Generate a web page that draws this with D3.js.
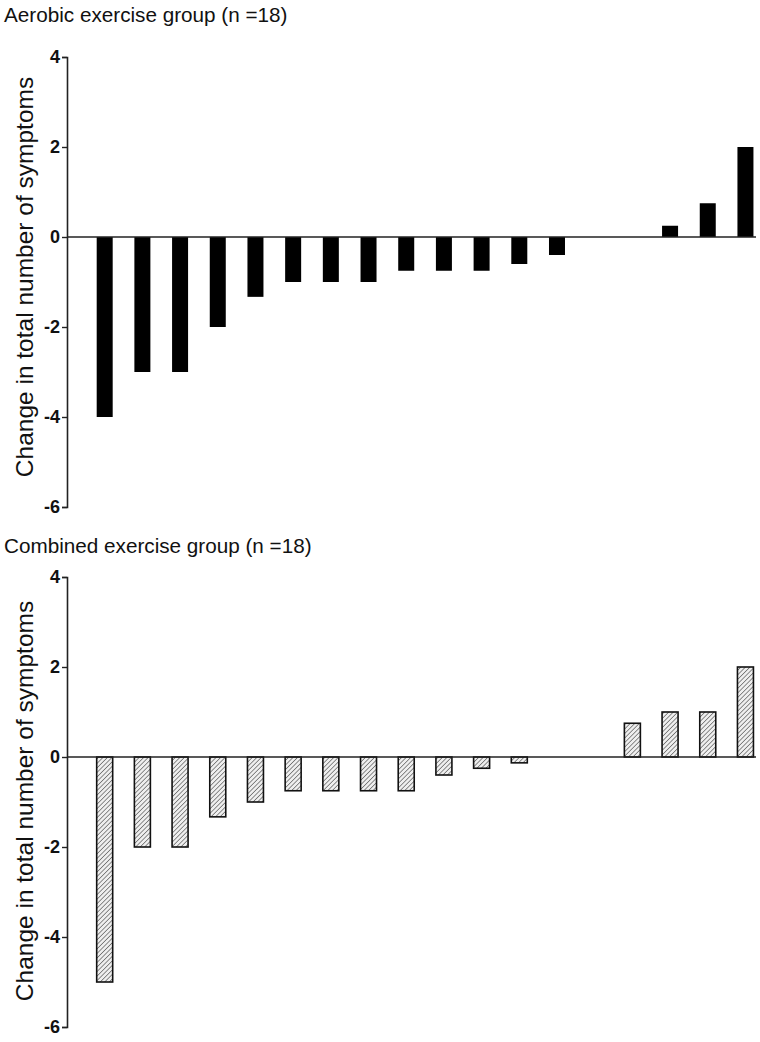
<!DOCTYPE html>
<html><head><meta charset="utf-8">
<script src="https://cdn.jsdelivr.net/npm/d3@7"></script>
<style>body{margin:0;background:#fff;}svg{display:block;font-family:Arial,"Liberation Sans",sans-serif;}</style>
</head><body>
<svg id="chart" width="760" height="1042"></svg>
<script>
const participants = d3.range(1, 19);
const aerobicValues = [-4, -3, -3, -2, -1.33, -1, -1, -1, -0.75, -0.75, -0.75, -0.6, -0.4, 0, 0, 0.25, 0.75, 2];
const combinedValues = [-5, -2, -2, -1.33, -1, -0.75, -0.75, -0.75, -0.75, -0.4, -0.25, -0.13, 0, 0, 0.75, 1, 1, 2];
const yTicks = [4, 2, 0, -2, -4, -6];
const panelTitles = ["Aerobic exercise group (n =18)", "Combined exercise group (n =18)"];
const yTitle = "Change in total number of symptoms";

const svg = d3.select("#chart");
const defs = svg.append("defs");
const pat = defs.append("pattern").attr("id","hatch").attr("patternUnits","userSpaceOnUse")
  .attr("width",3.2).attr("height",3.2).attr("patternTransform","rotate(45)");
pat.append("rect").attr("width",3.2).attr("height",3.2).attr("fill","#efefef");
pat.append("line").attr("x1",0).attr("y1",0).attr("x2",0).attr("y2",3.2).attr("stroke","#555").attr("stroke-width",1.3);

const x = d3.scaleLinear().domain([0, 18.28]).range([67, 756]);
const barW = 16;

function panel(top, values, title, hatched, titleY, ylabY) {
  const y = d3.scaleLinear().domain([-6, 4]).range([top + 450, top]);
  const g = svg.append("g");
  g.append("text").attr("x", 4).attr("y", titleY).style("font-size", "20.7px").attr("fill","#111").text(title);
  g.selectAll("rect.bar").data(values.map((v,i)=>({v, i})).filter(d=>d.v!==0)).join("rect")
    .attr("class","bar")
    .attr("x", d => x(participants[d.i]) - barW/2)
    .attr("width", barW)
    .attr("y", d => y(Math.max(0, d.v)))
    .attr("height", d => Math.abs(y(d.v) - y(0)))
    .attr("fill", hatched ? "url(#hatch)" : "#000")
    .attr("stroke", hatched ? "#111" : "none")
    .attr("stroke-width", 1.6);
  g.append("line").attr("x1", x(0)).attr("x2", x.range()[1]).attr("y1", y(0)).attr("y2", y(0))
    .attr("stroke","#222").attr("stroke-width",1.6);
  const ax = g.append("g").attr("transform", `translate(${x(0)},0)`)
    .call(d3.axisLeft(y).tickValues(yTicks).tickSize(5).tickPadding(2).tickFormat(d => String(d)));
  ax.select(".domain").attr("stroke","#222").attr("stroke-width",1.6);
  ax.selectAll(".tick line").attr("stroke","#222").attr("stroke-width",1.4);
  ax.selectAll(".tick text").style("font-size","18px").style("font-weight","bold").attr("fill","#111")
    .style("font-family","Arial, 'Liberation Sans', sans-serif");
  g.append("text").attr("transform", `translate(33,${ylabY}) rotate(-90)`)
    .attr("text-anchor","middle").style("font-size", "24.5px").attr("fill","#111").text(yTitle);
}

panel(57, aerobicValues, panelTitles[0], false, 22, 277);
panel(577, combinedValues, panelTitles[1], true, 553, 801);
</script>
</body></html>
